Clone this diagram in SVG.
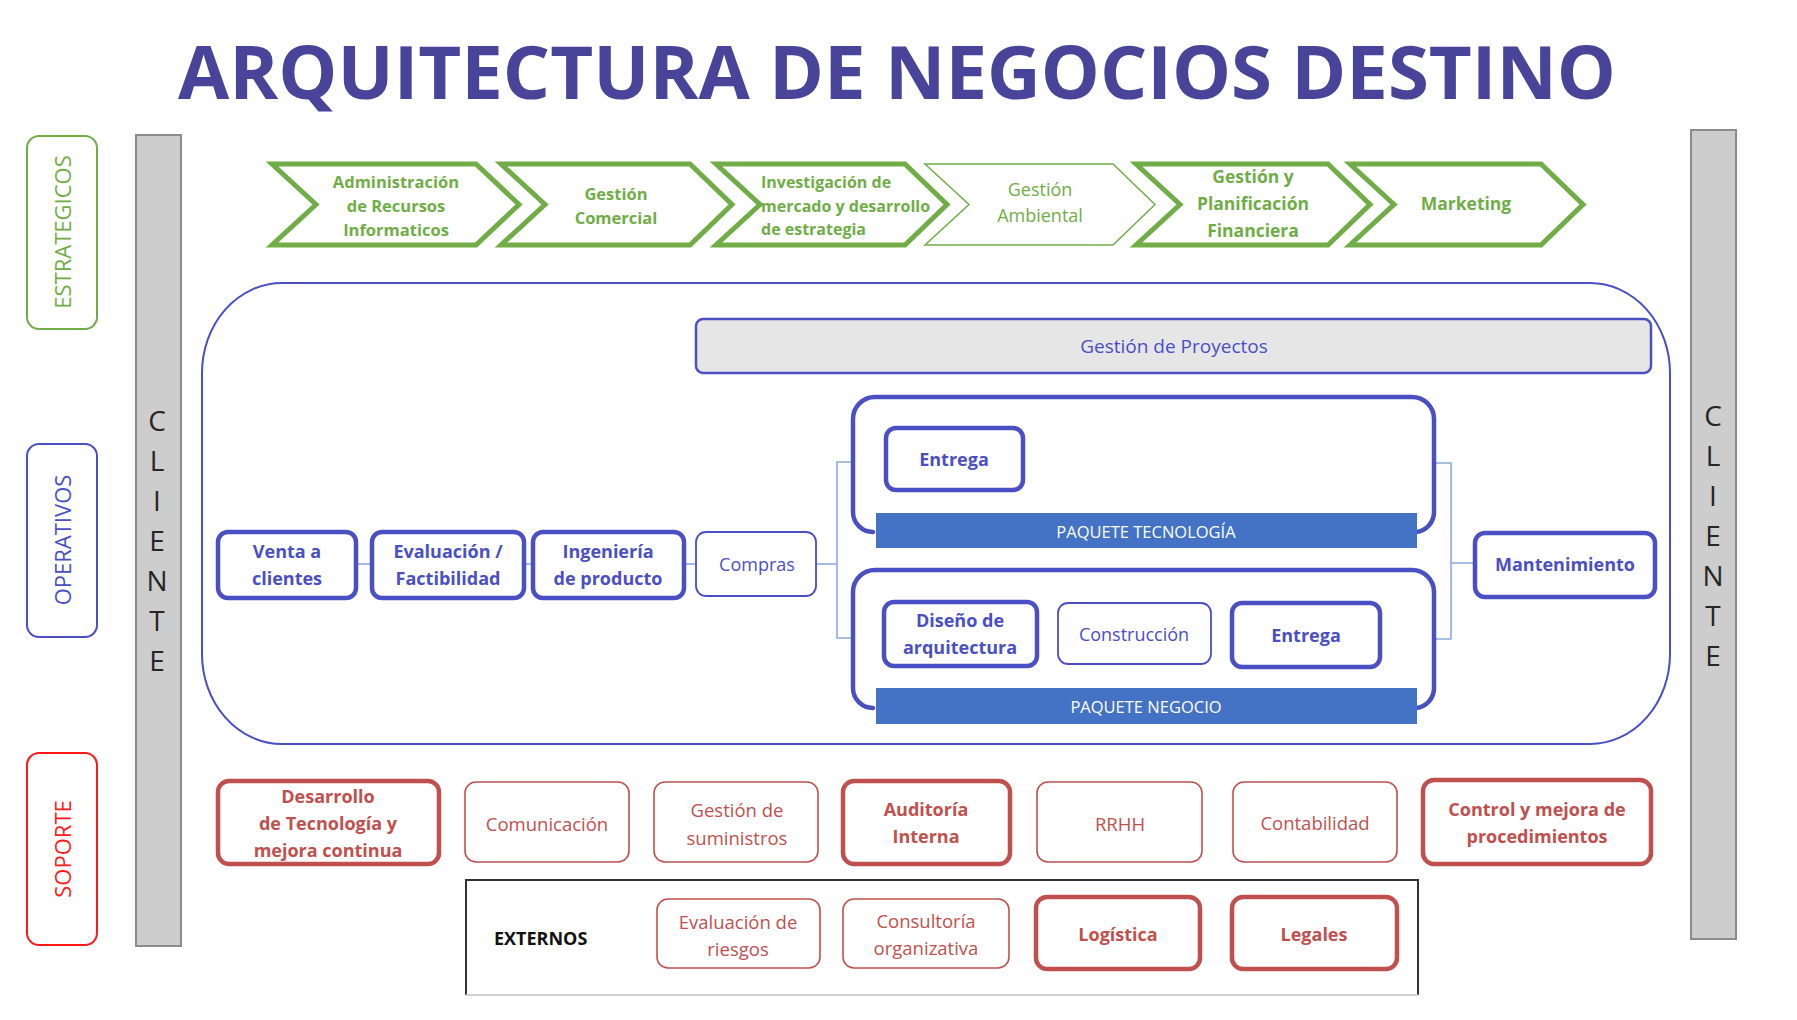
<svg xmlns="http://www.w3.org/2000/svg" width="1797" height="1020" viewBox="0 0 1797 1020">
<style>
text{font-family:"Open Sans","Liberation Sans",sans-serif;}
.title{font-size:74px;font-weight:700;fill:#474499;}
.chev{fill:#fff;stroke:#70ad47;stroke-width:5;stroke-linejoin:miter;}
.chevthin{fill:#fff;stroke:#70ad47;stroke-width:1.5;}
.ct{font-size:16.5px;font-weight:700;fill:#70ad47;text-anchor:middle;dominant-baseline:central;}
.ctl{font-size:16px;font-weight:700;fill:#70ad47;dominant-baseline:central;}
.ctr{font-size:18px;font-weight:400;fill:#70ad47;text-anchor:middle;dominant-baseline:central;}
.bar{fill:#cdcdcd;stroke:#8c8c8c;stroke-width:2;}
.cl{font-size:28px;fill:#262626;text-anchor:middle;dominant-baseline:central;}
.lbl{fill:#fff;stroke-width:2;}
.lt{font-size:22px;text-anchor:middle;dominant-baseline:central;}
.bt{fill:#fff;stroke:#4a4fc4;stroke-width:4.5;}
.bn{fill:#fff;stroke:#4a4fc4;stroke-width:1.8;}
.btt{font-size:18px;font-weight:700;fill:#4a4fc4;text-anchor:middle;dominant-baseline:central;}
.bnt{font-size:18px;font-weight:400;fill:#4a4fc4;text-anchor:middle;dominant-baseline:central;}
.rt{fill:#fff;stroke:#c0504d;stroke-width:4.5;}
.rn{fill:#fff;stroke:#c0504d;stroke-width:1.6;}
.rtt{font-size:18px;font-weight:700;fill:#c0504d;text-anchor:middle;dominant-baseline:central;}
.rnt{font-size:18.5px;font-weight:400;fill:#c0504d;text-anchor:middle;dominant-baseline:central;}
.pk{fill:none;stroke:#4a4fc4;stroke-width:4.5;stroke-linecap:round;}
.pkbar{fill:#4472c4;}
.pkt{font-size:16.5px;fill:#fff;text-anchor:middle;dominant-baseline:central;}
.conn{fill:none;stroke:#8eaadb;stroke-width:1.6;}
</style>

<text class="title" x="178" y="99" textLength="1438" lengthAdjust="spacingAndGlyphs">ARQUITECTURA DE NEGOCIOS DESTINO</text>

<g id="lbl-estrategicos">
<rect class="lbl" x="27" y="136" width="70" height="193" rx="12" stroke="#70ad47"/>
<text class="lt" transform="translate(62,232) rotate(-90)" fill="#70ad47">ESTRATEGICOS</text>
</g>
<g id="lbl-operativos">
<rect class="lbl" x="27" y="444" width="70" height="193" rx="12" stroke="#4a4fc4"/>
<text class="lt" transform="translate(62,540) rotate(-90)" fill="#4a4fc4">OPERATIVOS</text>
</g>
<g id="lbl-soporte">
<rect class="lbl" x="27" y="753" width="70" height="192" rx="12" stroke="#ff1a1a"/>
<text class="lt" transform="translate(62,849) rotate(-90)" fill="#ff1a1a">SOPORTE</text>
</g>

<g id="cliente-left">
<rect class="bar" x="136" y="135" width="45" height="811"/>
<text class="cl" x="157" y="420">C</text>
<text class="cl" x="157" y="460">L</text>
<text class="cl" x="157" y="500">I</text>
<text class="cl" x="157" y="540">E</text>
<text class="cl" x="157" y="580">N</text>
<text class="cl" x="157" y="620">T</text>
<text class="cl" x="157" y="660">E</text>
</g>
<g id="cliente-right">
<rect class="bar" x="1691" y="130" width="45" height="809"/>
<text class="cl" x="1713" y="415">C</text>
<text class="cl" x="1713" y="455">L</text>
<text class="cl" x="1713" y="495">I</text>
<text class="cl" x="1713" y="535">E</text>
<text class="cl" x="1713" y="575">N</text>
<text class="cl" x="1713" y="615">T</text>
<text class="cl" x="1713" y="655">E</text>
</g>

<g id="chev-admin">
<path class="chev" d="M272,164 H476 L519,204.5 L476,245 H272 L316,204.5 Z"/>
<text class="ct" x="396" y="181">Administración</text>
<text class="ct" x="396" y="205">de Recursos</text>
<text class="ct" x="396" y="229">Informaticos</text>
</g>
<g id="chev-comercial">
<path class="chev" d="M501,164 H690 L732,204.5 L690,245 H501 L545,204.5 Z"/>
<text class="ct" x="616" y="193">Gestión</text>
<text class="ct" x="616" y="217">Comercial</text>
</g>
<g id="chev-investigacion">
<path class="chev" d="M716,164 H905 L947,204.5 L905,245 H716 L760,204.5 Z"/>
<text class="ctl" x="761" y="182">Investigación de</text>
<text class="ctl" x="761" y="206">mercado y desarrollo</text>
<text class="ctl" x="761" y="229">de estrategia</text>
</g>
<g id="chev-ambiental">
<path class="chevthin" d="M925,164 H1113 L1155,204.5 L1113,245 H925 L969,204.5 Z"/>
<text class="ctr" x="1040" y="189">Gestión</text>
<text class="ctr" x="1040" y="215">Ambiental</text>
</g>
<g id="chev-financiera">
<path class="chev" d="M1136,164 H1328 L1370,204.5 L1328,245 H1136 L1180,204.5 Z"/>
<text class="ct" x="1253" y="176" style="font-size:17.5px">Gestión y</text>
<text class="ct" x="1253" y="203" style="font-size:17.5px">Planificación</text>
<text class="ct" x="1253" y="230" style="font-size:17.5px">Financiera</text>
</g>
<g id="chev-marketing">
<path class="chev" d="M1350,164 H1541 L1583,204.5 L1541,245 H1350 L1394,204.5 Z"/>
<text class="ct" x="1466" y="203" style="font-size:17.5px">Marketing</text>
</g>

<g id="operativos-frame">
<rect x="202" y="283" width="1468" height="461" rx="80" ry="90" fill="none" stroke="#4a4fc4" stroke-width="2"/>
</g>

<g id="gestion-proyectos">
<rect x="696" y="319" width="955" height="54" rx="7" fill="#e6e6e6" stroke="#4a4fc4" stroke-width="2.5"/>
<text class="bnt" x="1174" y="346" style="font-size:19px">Gestión de Proyectos</text>
</g>

<g id="connectors">
<line class="conn" x1="356" y1="564" x2="372" y2="564"/>
<line class="conn" x1="524" y1="564" x2="533" y2="564"/>
<line class="conn" x1="684" y1="564" x2="696" y2="564"/>
<line class="conn" x1="816" y1="564" x2="837" y2="564"/>
<polyline class="conn" points="853,462 837,462 837,638 853,638"/>
<polyline class="conn" points="1434,463 1451,463 1451,639 1434,639"/>
<line class="conn" x1="1451" y1="563" x2="1475" y2="563"/>
</g>

<g id="paquete-tecnologia">
<path class="pk" d="M873,532 A20,20 0 0 1 853,512 V419 A22,22 0 0 1 875,397 H1412 A22,22 0 0 1 1434,419 V512 A20,20 0 0 1 1416,532"/>
<rect class="pkbar" x="876" y="513" width="541" height="35"/>
<text class="pkt" x="1146" y="531">PAQUETE TECNOLOGÍA</text>
</g>
<g id="paquete-negocio">
<path class="pk" d="M873,708 A20,20 0 0 1 853,688 V592 A22,22 0 0 1 875,570 H1412 A22,22 0 0 1 1434,592 V688 A20,20 0 0 1 1416,708"/>
<rect class="pkbar" x="876" y="688" width="541" height="36"/>
<text class="pkt" x="1146" y="706">PAQUETE NEGOCIO</text>
</g>

<g id="venta">
<rect class="bt" x="218" y="532" width="138" height="66" rx="10"/>
<text class="btt" x="287" y="551">Venta a</text>
<text class="btt" x="287" y="578">clientes</text>
</g>
<g id="evaluacion">
<rect class="bt" x="372" y="532" width="152" height="66" rx="10"/>
<text class="btt" x="448" y="551">Evaluación /</text>
<text class="btt" x="448" y="578">Factibilidad</text>
</g>
<g id="ingenieria">
<rect class="bt" x="533" y="532" width="151" height="66" rx="10"/>
<text class="btt" x="608" y="551">Ingeniería</text>
<text class="btt" x="608" y="578">de producto</text>
</g>
<g id="compras">
<rect class="bn" x="696" y="532" width="120" height="64" rx="10"/>
<text class="bnt" x="757" y="564">Compras</text>
</g>
<g id="entrega-tec">
<rect class="bt" x="886" y="428" width="137" height="62" rx="10"/>
<text class="btt" x="954" y="459">Entrega</text>
</g>
<g id="diseno">
<rect class="bt" x="884" y="602" width="153" height="64" rx="10"/>
<text class="btt" x="960" y="620">Diseño de</text>
<text class="btt" x="960" y="647">arquitectura</text>
</g>
<g id="construccion">
<rect class="bn" x="1058" y="603" width="153" height="61" rx="10"/>
<text class="bnt" x="1134" y="634">Construcción</text>
</g>
<g id="entrega-neg">
<rect class="bt" x="1232" y="603" width="148" height="64" rx="10"/>
<text class="btt" x="1306" y="635">Entrega</text>
</g>
<g id="mantenimiento">
<rect class="bt" x="1475" y="533" width="180" height="64" rx="10"/>
<text class="btt" x="1565" y="564">Mantenimiento</text>
</g>

<g id="desarrollo">
<rect class="rt" x="218" y="781" width="221" height="83" rx="11"/>
<text class="rtt" x="328" y="796">Desarrollo</text>
<text class="rtt" x="328" y="823">de Tecnología y</text>
<text class="rtt" x="328" y="850">mejora continua</text>
</g>
<g id="comunicacion">
<rect class="rn" x="465" y="782" width="164" height="80" rx="11"/>
<text class="rnt" x="547" y="823">Comunicación</text>
</g>
<g id="suministros">
<rect class="rn" x="654" y="782" width="164" height="80" rx="11"/>
<text class="rnt" x="737" y="809">Gestión de</text>
<text class="rnt" x="737" y="837">suministros</text>
</g>
<g id="auditoria">
<rect class="rt" x="843" y="781" width="167" height="83" rx="11"/>
<text class="rtt" x="926" y="809">Auditoría</text>
<text class="rtt" x="926" y="836">Interna</text>
</g>
<g id="rrhh">
<rect class="rn" x="1037" y="782" width="165" height="80" rx="11"/>
<text class="rnt" x="1120" y="823">RRHH</text>
</g>
<g id="contabilidad">
<rect class="rn" x="1233" y="782" width="164" height="80" rx="11"/>
<text class="rnt" x="1315" y="822">Contabilidad</text>
</g>
<g id="control">
<rect class="rt" x="1423" y="780" width="228" height="84" rx="11"/>
<text class="rtt" x="1537" y="809">Control y mejora de</text>
<text class="rtt" x="1537" y="836">procedimientos</text>
</g>

<g id="externos">
<path d="M466,995 V880 H1418 V995" fill="none" stroke="#333" stroke-width="2"/>
<line x1="466" y1="995" x2="1418" y2="995" stroke="#d0d0d0" stroke-width="2"/>
<text x="494" y="938" style="font-size:18px;font-weight:700;fill:#111;dominant-baseline:central">EXTERNOS</text>
</g>
<g id="riesgos">
<rect class="rn" x="657" y="899" width="163" height="69" rx="11"/>
<text class="rnt" x="738" y="921">Evaluación de</text>
<text class="rnt" x="738" y="948">riesgos</text>
</g>
<g id="consultoria">
<rect class="rn" x="843" y="899" width="166" height="69" rx="11"/>
<text class="rnt" x="926" y="920">Consultoría</text>
<text class="rnt" x="926" y="947">organizativa</text>
</g>
<g id="logistica">
<rect class="rt" x="1036" y="897" width="164" height="72" rx="11"/>
<text class="rtt" x="1118" y="934">Logística</text>
</g>
<g id="legales">
<rect class="rt" x="1232" y="897" width="165" height="72" rx="11"/>
<text class="rtt" x="1314" y="934">Legales</text>
</g>
</svg>
